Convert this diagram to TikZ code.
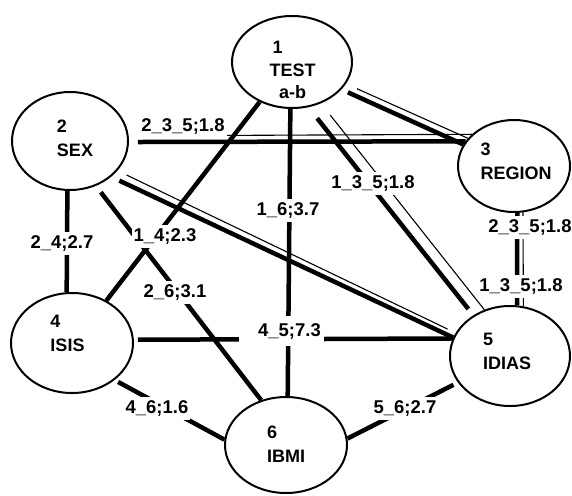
\documentclass[tikz,border=0pt]{standalone}
\usepackage{fontspec}
\setmainfont{Liberation Sans}
\usetikzlibrary{shapes.geometric}
\begin{document}
\begin{tikzpicture}[x=1pt,y=-1pt,
  vertex/.style={ellipse, draw, line width=2pt, inner sep=0pt},
  vtext/.style={font=\fontsize{18}{24}\selectfont\bfseries, align=left, inner sep=0pt},
  heavy/.style={line width=4.5pt},
  light/.style={line width=1.1pt},
  weight/.style={fill=white, font=\fontsize{18.5}{22}\selectfont\bfseries, inner xsep=2pt, inner ysep=4pt}]
\useasboundingbox (0,0) rectangle (572,495);

% variables
\node[vertex, minimum width=120pt, minimum height=92pt]  (n1) at (292,62)  {};
\node[vertex, minimum width=116pt, minimum height=98pt]  (n2) at (70,141)  {};
\node[vertex, minimum width=112pt, minimum height=92pt]  (n3) at (514,166) {};
\node[vertex, minimum width=122pt, minimum height=100pt] (n4) at (72,343)  {};
\node[vertex, minimum width=120pt, minimum height=100pt] (n5) at (510,356) {};
\node[vertex, minimum width=122pt, minimum height=96pt]  (n6) at (286,445) {};

\node[vtext, align=center, font=\fontsize{18}{22.5}\selectfont\bfseries] (t1) at (292.5,70) {\rlap{\hspace{3pt}1}\phantom{TEST}\\TEST\\a-b};
\node[vtext] (t2) at (75,138.5)  {2\\SEX};
\node[vtext] (t3) at (516,161.5) {3\\REGION};
\node[vtext] (t4) at (67.5,333.5) {4\\ISIS};
\node[vtext] (t5) at (507,351)   {5\\IDIAS};
\node[vtext] (t6) at (286,444.5) {6\\IBMI};

% pairwise links
\draw[heavy] (n1.-92) -- (n6.88);
\draw[heavy, shorten <=4pt] (n4.3) -- (n5.163);
\draw[heavy] (n2.-93) -- (n4.96);
\draw[heavy, shorten <=8pt] (n2.-60) -- (n6.119);
\draw[heavy] (n1.-129) -- (n4.51);
\draw[heavy, shorten <=4pt] (n4.-41) -- (n6.175);
\draw[heavy, shorten >=5pt] (n6.6) -- (n5.-153);

% three-way links drawn as double strokes
\draw[heavy, shorten <=9pt] (n2.-1) -- (n3.153);
\draw[light, shorten <=12pt] (n2.5) -- (n3.143);
\draw[heavy, shorten <=7pt] (n1.-29) -- (n3.157);
\draw[light, shorten <=12pt] (n1.-22) -- (n3.149);
\draw[heavy, shorten <=14pt, shorten >=8pt] (n1.-70) -- (n5.132);
\draw[light, shorten <=15pt] (n1.-55) -- (n5.119);
\draw[heavy, shorten <=9pt] (n2.-41) -- (n5.162);
\draw[light, shorten <=10pt, shorten >=9pt] (n2.-32) -- (n5.157);
\draw[heavy] (n3.-86) -- (n5.82);
\draw[light] (n3.-79) -- (n5.75);

% weights
\node[weight] (w235a) at (183,126.5) {2\_3\_5;1.8};
\node[weight] (w16)   at (288,210.5) {1\_6;3.7};
\node[weight] (w14)   at (165,236.5) {1\_4;2.3};
\node[weight] (w26)   at (175,292.5) {2\_6;3.1};
\node[weight, inner xsep=3pt, inner ysep=7pt] (w45) at (281.5,331) {\hspace*{16pt}4\_5;7.3};
\node[weight] (w135a) at (373,183.5) {1\_3\_5;1.8};
\node[weight] (w24)   at (62,243.5)  {2\_4;2.7};
\node[weight] (w46)   at (157,408.5) {4\_6;1.6};
\node[weight] (w56)   at (405,408.5) {5\_6;2.7};
\node[weight] (w235b) at (530,227.5) {2\_3\_5;1.8};
\node[weight] (w135b) at (521,286.5) {1\_3\_5;1.8};
\end{tikzpicture}
\end{document}
